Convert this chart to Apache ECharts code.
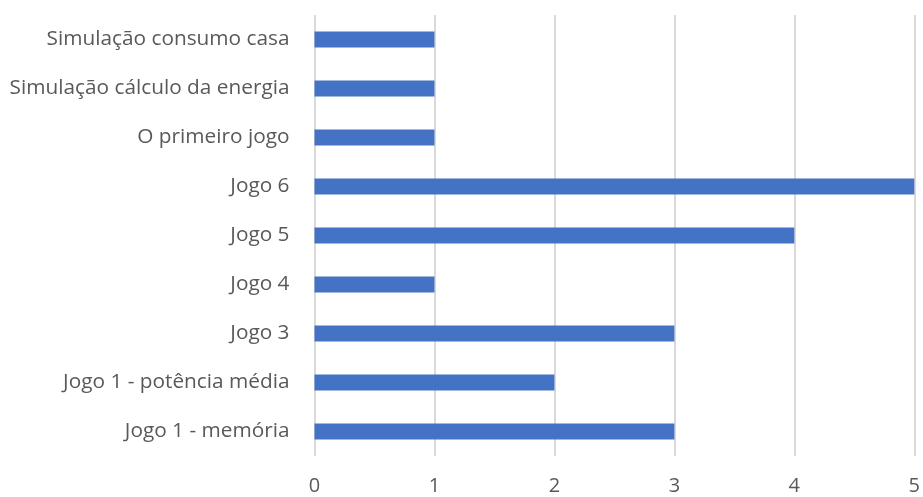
<!DOCTYPE html>
<html>
<head>
<meta charset="utf-8">
<script src="https://cdn.jsdelivr.net/npm/echarts@6/dist/echarts.min.js"></script>
<style>html,body{margin:0;padding:0;background:#fff}#c{width:923px;height:497px}</style>
</head>
<body>
<div id="c"></div>
<script>
const categories = ["Jogo 1 - memória", "Jogo 1 - potência média", "Jogo 3", "Jogo 4", "Jogo 5", "Jogo 6", "O primeiro jogo", "Simulação cálculo da energia", "Simulação consumo casa"];
const values = [3, 2, 3, 1, 4, 5, 1, 1, 1];
const xTicks = [0, 1, 2, 3, 4, 5];

const chart = echarts.init(document.getElementById('c'), null, {renderer: 'canvas'});
const font = '"Open Sans", sans-serif';
chart.setOption({
  animation: false,
  backgroundColor: '#ffffff',
  grid: {left: 314.5, right: 7, top: 15, bottom: 41},
  xAxis: {
    type: 'value', min: xTicks[0], max: xTicks[xTicks.length - 1], interval: 1,
    axisLine: {show: false}, axisTick: {show: false},
    splitLine: {show: true, lineStyle: {color: '#d9d9d9', width: 2}},
    axisLabel: {color: '#595959', fontSize: 20, fontFamily: font, margin: 20}
  },
  yAxis: {
    type: 'category', data: categories,
    axisLine: {show: false}, axisTick: {show: false},
    axisLabel: {color: '#595959', fontSize: 20.8, fontFamily: font, margin: 25}
  },
  series: [{
    type: 'bar', data: values, barWidth: 16,
    itemStyle: {color: '#4472C4'}
  }]
});
</script>
</body>
</html>
